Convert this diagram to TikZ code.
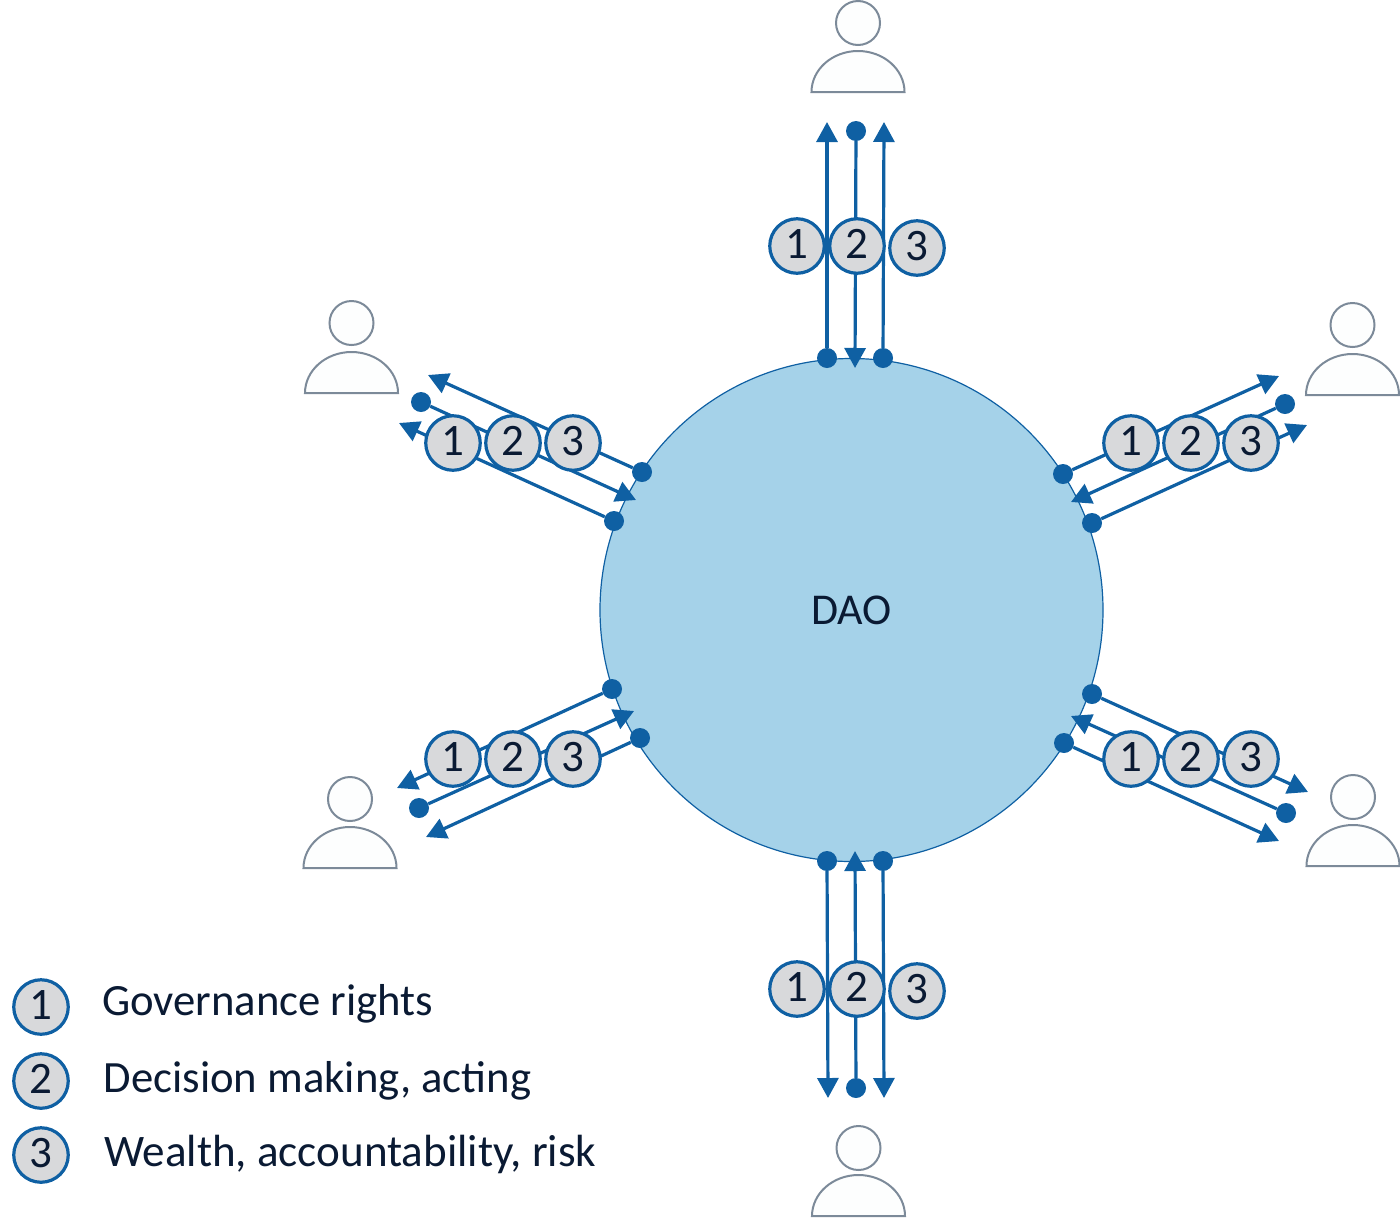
\documentclass[tikz,border=0pt]{standalone}
\usepackage{fontspec}
\setmainfont{Carlito}
\usetikzlibrary{arrows.meta}
\definecolor{flowblue}{HTML}{0F60A3}
\definecolor{daofill}{HTML}{A5D2E9}
\definecolor{badgefill}{HTML}{D8D9DB}
\definecolor{inkdark}{HTML}{0A1A33}
\definecolor{persongrey}{HTML}{7C8A99}
\definecolor{personfill}{HTML}{FDFEFE}
\tikzset{
  flow/.style={draw=flowblue,line width=3.2pt,-{Triangle[length=20pt,width=21pt]}},
  dotend/.style={circle,fill=flowblue,inner sep=0pt,minimum size=20pt},
  badge/.style={circle,draw=flowblue,line width=3.2pt,fill=badgefill,inner sep=0pt,minimum size=54.5pt,text=inkdark,text height=28.5pt,text depth=4pt,font=\fontsize{45}{54}\selectfont},
  legendtext/.style={anchor=base west,inner sep=0pt,text=inkdark,font=\fontsize{44.7}{54}\selectfont},
  head/.style={circle,draw=persongrey,line width=2pt,fill=personfill,inner sep=0pt,minimum size=44pt},
  body/.style={draw=persongrey,line width=2pt,fill=personfill},
  dao/.style={circle,draw=flowblue,line width=1.2pt,fill=daofill,inner sep=0pt,minimum size=503pt,text=inkdark,font=\fontsize{44}{54}\selectfont}
}
% person: name, centre x, head centre y, base y
\newcommand{\personfig}[4]{%
  \node[head] (#1head) at (#2,#3) {};
  \pgfmathsetmacro{\pl}{#2-46.5}\pgfmathsetmacro{\pr}{#2+46.5}
  \pgfmathsetmacro{\pt}{#4-41}\pgfmathsetmacro{\pm}{#4-22.6}
  \pgfmathsetmacro{\cl}{#2-25.6}\pgfmathsetmacro{\cr}{#2+25.6}
  \draw[body] (\pl,#4) .. controls (\pl,\pm) and (\cl,\pt) .. (#2,\pt) .. controls (\cr,\pt) and (\pr,\pm) .. (\pr,#4) -- cycle;
}
\begin{document}
\begin{tikzpicture}[x=1pt,y=-1pt]
\path[use as bounding box] (0,0) rectangle (1400,1219);
\node[dao] (dao) at (851.5,610) {DAO};

\personfig{pT}{858}{23}{92}
\personfig{pUL}{351.5}{323}{393}
\personfig{pUR}{1352.5}{325}{395}
\personfig{pLL}{350}{799}{868}
\personfig{pLR}{1353}{797}{866}
\personfig{pB}{858.5}{1148}{1216}

% top
\node[dotend] (t1) at (827,358) {};
\node[dotend] (t2) at (856,131) {};
\node[dotend] (t3) at (883,358) {};
\coordinate (t1a) at (827,122);
\coordinate (t2a) at (855,368);
\coordinate (t3a) at (884,122);
\draw[flow] (t1) -- (t1a);
\draw[flow] (t2) -- (t2a);
\draw[flow] (t3) -- (t3a);
\node[badge] at (797,246) {1};
\node[badge] at (857,246) {2};
\node[badge] at (917,248) {3};

% bottom
\node[dotend] (b1) at (827,861) {};
\node[dotend] (b2) at (856,1088) {};
\node[dotend] (b3) at (883,861) {};
\coordinate (b1a) at (828,1098);
\coordinate (b2a) at (855,851);
\coordinate (b3a) at (884,1098);
\draw[flow] (b1) -- (b1a);
\draw[flow] (b2) -- (b2a);
\draw[flow] (b3) -- (b3a);
\node[badge] at (797,989) {1};
\node[badge] at (857,989) {2};
\node[badge] at (917,991) {3};

% upper left
\node[dotend] (ul1) at (642,472) {};
\node[dotend] (ul2) at (421,402) {};
\node[dotend] (ul3) at (614,521) {};
\coordinate (ul1a) at (428,375);
\coordinate (ul2a) at (636,500);
\coordinate (ul3a) at (399,423);
\draw[flow] (ul1) -- (ul1a);
\draw[flow] (ul2) -- (ul2a);
\draw[flow] (ul3) -- (ul3a);
\node[badge] at (453,443) {1};
\node[badge] at (513,443) {2};
\node[badge] at (573,443) {3};

% upper right
\node[dotend] (ur1) at (1063,474) {};
\node[dotend] (ur2) at (1285,404) {};
\node[dotend] (ur3) at (1092,523) {};
\coordinate (ur1a) at (1279,376);
\coordinate (ur2a) at (1071,502);
\coordinate (ur3a) at (1307,425);
\draw[flow] (ur1) -- (ur1a);
\draw[flow] (ur2) -- (ur2a);
\draw[flow] (ur3) -- (ur3a);
\node[badge] at (1131,443) {1};
\node[badge] at (1191,443) {2};
\node[badge] at (1251,443) {3};

% lower left
\node[dotend] (ll1) at (612,689) {};
\node[dotend] (ll2) at (419,808) {};
\node[dotend] (ll3) at (640,738) {};
\coordinate (ll1a) at (397,788);
\coordinate (ll2a) at (634,711);
\coordinate (ll3a) at (426,837);
\draw[flow] (ll1) -- (ll1a);
\draw[flow] (ll2) -- (ll2a);
\draw[flow] (ll3) -- (ll3a);
\node[badge] at (453,759) {1};
\node[badge] at (513,759) {2};
\node[badge] at (573,759) {3};

% lower right
\node[dotend] (lr1) at (1092,694) {};
\node[dotend] (lr2) at (1286,813) {};
\node[dotend] (lr3) at (1064,743) {};
\coordinate (lr1a) at (1308,792);
\coordinate (lr2a) at (1071,716);
\coordinate (lr3a) at (1279,841);
\draw[flow] (lr1) -- (lr1a);
\draw[flow] (lr2) -- (lr2a);
\draw[flow] (lr3) -- (lr3a);
\node[badge] at (1131,759) {1};
\node[badge] at (1191,759) {2};
\node[badge] at (1251,759) {3};

% legend
\node[badge] at (41,1007) {1};
\node[badge] at (41,1081) {2};
\node[badge] at (41,1155) {3};
\node[legendtext] at (102,1015) {Governance rights};
\node[legendtext] at (103.5,1092) {Decision making, acting};
\node[legendtext,font=\fontsize{45.1}{54}\selectfont] at (104,1166) {Wealth, accountability, risk};
\end{tikzpicture}
\end{document}
